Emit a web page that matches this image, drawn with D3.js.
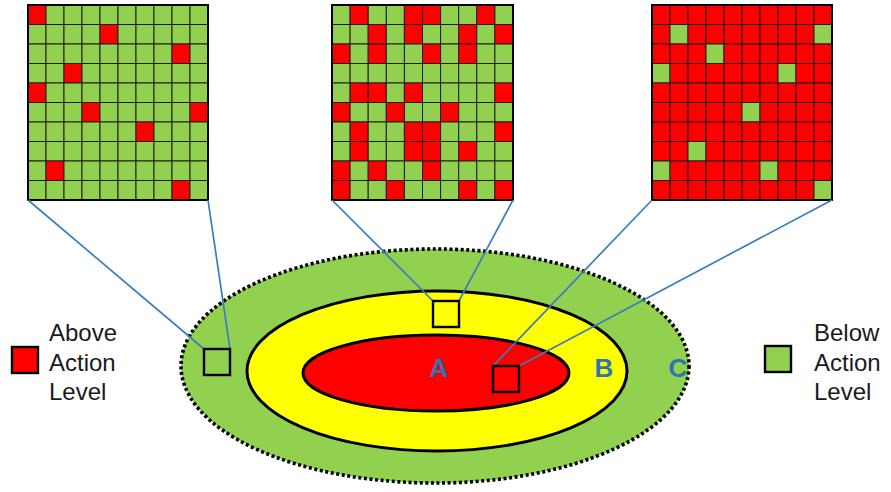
<!DOCTYPE html>
<html><head><meta charset="utf-8">
<script src="https://cdn.jsdelivr.net/npm/d3@7"></script>
<style>body{margin:0;background:#fff}svg{display:block}</style>
</head><body>
<svg id="c" width="891" height="492"></svg>
<script>
// Sample grids (R = above action level, G = below action level)
const gridC = ["RGGGGGGGGG","GGGGRGGGGG","GGGGGGGGRG","GGRGGGGGGG","RGGGGGGGGG","GGGRGGGGGR","GGGGGGRGGG","GGGGGGGGGG","GRGGGGGGGG","GGGGGGGGRG"];
const gridB = ["GRGGRRGGRG","GGRGRGGRGR","RGRGGRGRGG","GGGGGGGGGG","GRRGRGGGGR","RGGRGGRGGG","GRGGRRGGGR","GRGGRRGRGG","RGRGGRGGGG","RGGRGGGRGR"];
const gridA = ["RRRRRRRRRR","RGRRRRRRRG","RRRGRRRRRR","GRRRRRRGRR","RRRRRRRRRR","RRRRRGRRRR","RRRRRRRRRR","RRGRRRRRRR","GRRRRRGRRR","RRRRRRRRRG"];
const zoneLabels = ["A","B","C"];
const legendAbove = ["Above","Action","Level"];
const legendBelow = ["Below","Action","Level"];

const RED = "#ff0000", GREEN = "#92d050", YELLOW = "#ffff00", BLUE = "#2e75b6", LINE = "#3a7dbf";
const svg = d3.select("#c");

// zones
const zones = [
  {cx:435, cy:366, rx:254, ry:117, fill:GREEN, dash:"3,2.6", sw:3.6},
  {cx:437, cy:371, rx:190, ry:80, fill:YELLOW, dash:null, sw:3},
  {cx:436, cy:373, rx:133, ry:38, fill:RED, dash:null, sw:3}
];
svg.selectAll("ellipse.zone").data(zones).join("ellipse")
  .attr("cx",d=>d.cx).attr("cy",d=>d.cy).attr("rx",d=>d.rx).attr("ry",d=>d.ry)
  .attr("fill",d=>d.fill).attr("stroke","#000").attr("stroke-width",d=>d.sw)
  .attr("stroke-dasharray",d=>d.dash);

const labelPos = [[439,368],[604,368],[678,368]];
svg.selectAll("text.zl").data(zoneLabels).join("text")
  .attr("x",(d,i)=>labelPos[i][0]).attr("y",(d,i)=>labelPos[i][1])
  .attr("text-anchor","middle").attr("dominant-baseline","central")
  .attr("font-family","Liberation Sans, Arial, sans-serif").attr("font-weight","bold")
  .attr("font-size",26).attr("fill",BLUE).text(d=>d);

// grids
const grids = [
  {data:gridC, x:28, y:5, w:180, h:195, sq:[204,349]},
  {data:gridB, x:332, y:5, w:181, h:195, sq:[433,301]},
  {data:gridA, x:652, y:5, w:180, h:195, sq:[493,366]}
];
const SQ = 26;
grids.forEach(g=>{
  const xs = d3.scaleBand().domain(d3.range(10)).range([g.x, g.x+g.w]);
  const ys = d3.scaleBand().domain(d3.range(10)).range([g.y, g.y+g.h]);
  const cells = [];
  g.data.forEach((row,r)=>row.split("").forEach((v,c)=>cells.push({r,c,v})));
  const grp = svg.append("g");
  grp.selectAll("rect").data(cells).join("rect")
    .attr("x",d=>xs(d.c)).attr("y",d=>ys(d.r))
    .attr("width",xs.bandwidth()).attr("height",ys.bandwidth())
    .attr("fill",d=>d.v==="R"?RED:GREEN)
    .attr("stroke","#1e1e1e").attr("stroke-width",1);
  grp.append("rect").attr("x",g.x).attr("y",g.y).attr("width",g.w).attr("height",g.h)
    .attr("fill","none").attr("stroke","#000").attr("stroke-width",2);
  // connector lines
  svg.append("line").attr("x1",g.x).attr("y1",g.y+g.h).attr("x2",g.sq[0]).attr("y2",g.sq[1])
    .attr("stroke",LINE).attr("stroke-width",1.7);
  svg.append("line").attr("x1",g.x+g.w).attr("y1",g.y+g.h).attr("x2",g.sq[0]+SQ).attr("y2",g.sq[1])
    .attr("stroke",LINE).attr("stroke-width",1.7);
  svg.append("rect").attr("x",g.sq[0]).attr("y",g.sq[1]).attr("width",SQ).attr("height",SQ)
    .attr("fill","none").attr("stroke","#000").attr("stroke-width",2.4);
});

// legends
function legend(x, y, fill, lines, tx){
  svg.append("rect").attr("x",x).attr("y",y).attr("width",26).attr("height",26)
    .attr("fill",fill).attr("stroke","#000").attr("stroke-width",2.4);
  svg.append("g").selectAll("text").data(lines).join("text")
    .attr("x",tx).attr("y",(d,i)=>341+i*29.5)
    .attr("font-family","Liberation Sans, Arial, sans-serif").attr("font-size",24)
    .attr("fill","#1a1a1a").text(d=>d);
}
legend(12, 347, RED, legendAbove, 49);
legend(765, 346, GREEN, legendBelow, 814);
</script>
</body></html>
